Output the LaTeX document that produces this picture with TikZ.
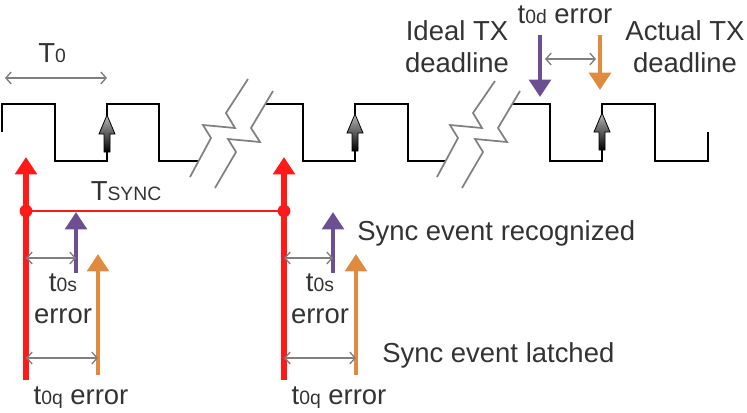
\documentclass[tikz,border=0pt]{standalone}
\usepackage{fontspec}
\setmainfont{Liberation Sans}
\usetikzlibrary{arrows.meta}
\definecolor{txt}{HTML}{333333}
\definecolor{myred}{HTML}{FF1A1A}
\definecolor{mypurple}{HTML}{6B4F92}
\definecolor{myorange}{HTML}{DF8A3E}
\definecolor{gline}{HTML}{808080}
\tikzset{
  wave/.style={black, line width=1.5pt, line join=miter},
  brk/.style={gline, line width=1.3pt, line join=miter},
  dimarr/.style={gline, line width=1pt, {Straight Barb[length=4pt,width=9pt]}-{Straight Barb[length=4pt,width=9pt]}},
  bigarr/.style={line width=3.5pt, -{Triangle[length=13pt,width=16pt]}},
  redarr/.style={myred, line width=3.8pt, -{Triangle[length=13pt,width=16pt]}},
  lbl/.style={text=txt, font=\fontsize{20.6}{24}\selectfont, inner sep=0pt, align=center},
  pics/edgearr/.style={code={
    \shade[top color=gray!55, bottom color=black, draw=black, line width=0.6pt]
      (0,0) -- (8,19) -- (3,19) -- (3,37) -- (-3,37) -- (-3,19) -- (-8,19) -- cycle;
  }},
}
\newcommand{\sm}[1]{{\fontsize{14.5}{16}\selectfont #1}}
\begin{document}
\begin{tikzpicture}[x=0.75pt,y=-0.75pt]
\useasboundingbox (0,0) rectangle (747,412);

% waveform
\draw[wave] (2,132) -- (2,104) -- (55,104) -- (55,161) -- (107,161) -- (107,104) -- (159,104) -- (159,161) -- (199,161);
\draw[wave] (265,104) -- (303,104) -- (303,161) -- (355,161) -- (355,104) -- (408,104) -- (408,161) -- (446,161);
\draw[wave] (513,104) -- (550,104) -- (550,161) -- (602,161) -- (602,104) -- (655,104) -- (655,161) -- (708,161) -- (708,132);

% breaks
\draw[brk] (190,177) -- (211,138) -- (203,125) -- (235,128) -- (226,113) -- (248,79);
\draw[brk] (215,188) -- (236,152) -- (228,139) -- (260,142) -- (251,128) -- (273,91);
\draw[brk] (437,177) -- (458,138) -- (450,125) -- (482,128) -- (473,113) -- (495,81);
\draw[brk] (462,188) -- (483,152) -- (475,139) -- (507,142) -- (498,128) -- (520,91);

% edge arrows
\pic at (107,115) {edgearr};
\pic at (355,114) {edgearr};
\pic at (602,113) {edgearr};

% T0
\node[lbl, anchor=west] (t0) at (38,53) {T\sm{0}};
\coordinate (t0a) at (5,78);
\coordinate (t0b) at (107,78);
\draw[dimarr] (t0a) -- (t0b);

% top deadlines
\node[lbl] (ideal) at (457,47) {Ideal TX\\deadline};
\node[lbl] (actual) at (685,47) {Actual TX\\deadline};
\node[lbl] (t0d) at (565,15) {t\sm{0d} error};
\coordinate (pd1) at (540,35);
\coordinate (pd2) at (540,97);
\coordinate (od1) at (600,35);
\coordinate (od2) at (600,90);
\draw[bigarr, mypurple] (pd1) -- (pd2);
\draw[bigarr, myorange] (od1) -- (od2);
\coordinate (dd1) at (545,59);
\coordinate (dd2) at (596,59);
\draw[dimarr] (dd1) -- (dd2);

% sync lines
\coordinate (r1b) at (26,380);
\coordinate (r1t) at (26,157);
\coordinate (r2b) at (284,380);
\coordinate (r2t) at (284,157);
\coordinate (d1) at (26,211);
\coordinate (d2) at (284,211);
\draw[myred, line width=0.9pt] (d1) -- (d2);
\draw[redarr] (r1b) -- (r1t);
\draw[redarr] (r2b) -- (r2t);
\fill[myred] (d1) circle (4.8pt);
\fill[myred] (d2) circle (4.8pt);
\node[lbl] (tsync) at (126,191) {T\sm{SYNC}};

% first sync event
\coordinate (p1b) at (76,273);
\coordinate (p1t) at (76,212);
\coordinate (o1b) at (98,375);
\coordinate (o1t) at (98,254);
\draw[bigarr, mypurple] (p1b) -- (p1t);
\draw[bigarr, myorange] (o1b) -- (o1t);
\coordinate (s1a) at (26,258);
\coordinate (s1b) at (76,258);
\coordinate (q1a) at (26,358);
\coordinate (q1b) at (98,358);
\draw[dimarr] (s1a) -- (s1b);
\draw[dimarr] (q1a) -- (q1b);
\node[lbl] (ts1) at (63,299) {t\sm{0s}\\error};
\node[lbl] (tq1) at (81,398) {t\sm{0q} error};

% second sync event
\coordinate (p2b) at (333,273);
\coordinate (p2t) at (333,212);
\coordinate (o2b) at (356,375);
\coordinate (o2t) at (356,254);
\draw[bigarr, mypurple] (p2b) -- (p2t);
\draw[bigarr, myorange] (o2b) -- (o2t);
\coordinate (s2a) at (284,258);
\coordinate (s2b) at (333,258);
\coordinate (q2a) at (284,358);
\coordinate (q2b) at (356,358);
\draw[dimarr] (s2a) -- (s2b);
\draw[dimarr] (q2a) -- (q2b);
\node[lbl] (ts2) at (320,299) {t\sm{0s}\\error};
\node[lbl] (tq2) at (339,398) {t\sm{0q} error};

\node[lbl, anchor=west] (recog) at (357,233) {Sync event recognized};
\node[lbl, anchor=west] (latch) at (382,355) {Sync event latched};
\end{tikzpicture}
\end{document}
